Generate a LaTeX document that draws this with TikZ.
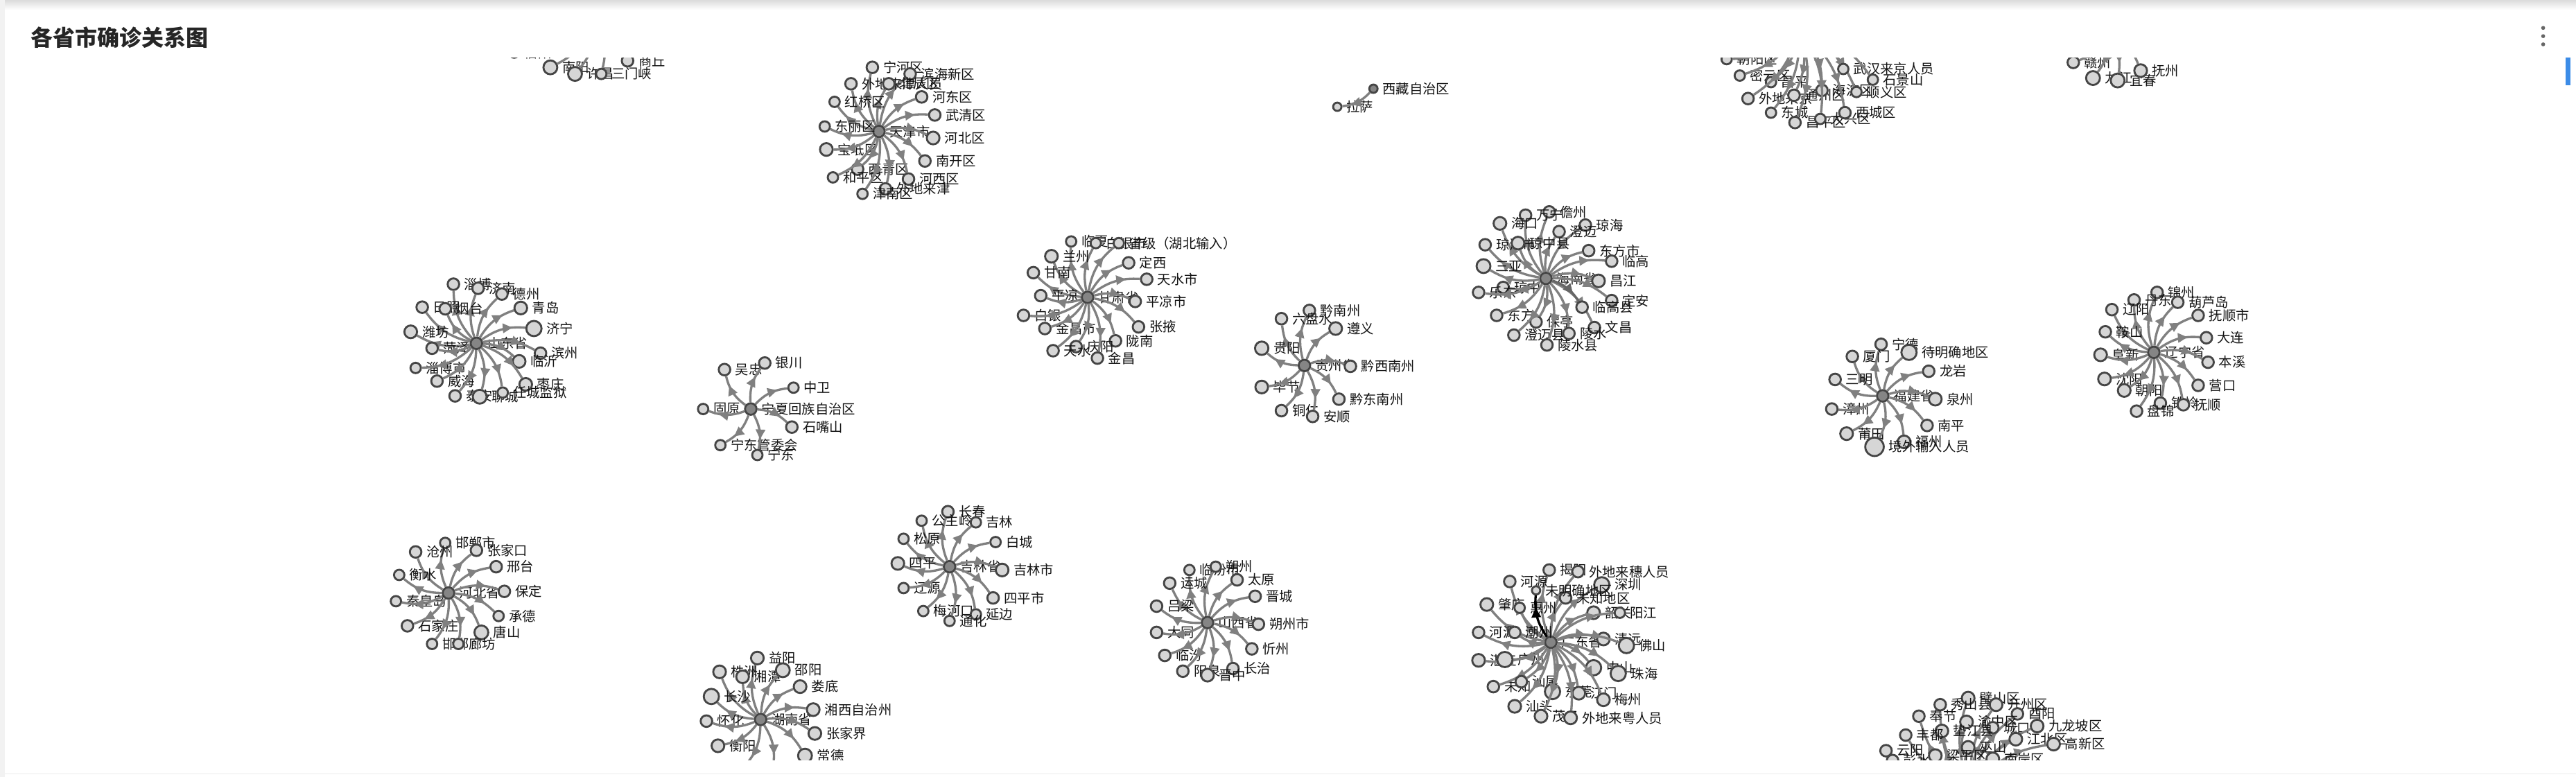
\documentclass[tikz,border=0pt]{standalone}
\usepackage{fontspec}
\setmainfont{Noto Sans CJK SC}
\usetikzlibrary{arrows.meta,decorations.markings}
\definecolor{edgegray}{HTML}{808080}
\definecolor{rimgray}{HTML}{454545}
\definecolor{leafgray}{HTML}{D6D6D6}
\definecolor{hubgray}{HTML}{858585}
\definecolor{barblue}{HTML}{3C8CE7}
\tikzstyle{vertex}=[circle,draw=rimgray,line width=0.85pt,fill=leafgray,minimum size=4.5pt,inner sep=0pt]
\tikzstyle{Cvertex}=[vertex,fill=hubgray,minimum size=5pt]
\tikzstyle{every label}=[font=\fontsize{5.8}{6}\selectfont,inner sep=0pt,text=black!92]
\tikzstyle{EdgeStyle}=[color=edgegray,line width=1pt,bend left=20,postaction={decorate},
  decoration={markings,mark=at position 0.72 with {\arrow{Triangle[length=4.2pt,width=4pt]}}}]
\newcommand{\picunit}{0.025cm}

\begin{document}
\begin{tikzpicture}[x=\picunit,y=-\picunit,label distance=1.6pt]
\useasboundingbox (0,0) rectangle (1568,473);
\fill[white] (0,0) rectangle (1568,473);
\shade[top color=black!14,bottom color=white] (0,0) rectangle (1568,6);
\fill[black!5] (0,0) rectangle (3,473);
\draw[black!8] (3,471) -- (1568,471);
\node[anchor=west,font=\fontsize{9.6}{11}\selectfont\bfseries,text=black!85] (title) at (14,23) {各省市确诊关系图};
% menu and scroll bar
\foreach \d in {17,22,27} \fill[black!60] (1548,\d) circle (1.2);
\fill[barblue] (1561.5,35) rectangle (1564.5,52);

\begin{scope}
\clip (0,35.3) rectangle (1558,462.5);

% Henan (hub above the view)
\node[Cvertex] (HA) at (362,12) {};
\foreach \i/\x/\y/\lab/\sz in {1/313/32/信阳/4.5,2/335/41/南阳/6,3/350/45/许昌/6,4/366/45/三门峡/4.5,5/382/37/商丘/5}{
  \node[vertex,minimum size=\sz pt,label=right:\lab] (HA\i) at (\x,\y) {};
  \draw[EdgeStyle] (HA) to (HA\i);
}

% Tianjin
\node[Cvertex,label=right:天津市] (TJ) at (535,80) {};
\foreach \i/\x/\y/\lab/\sz in {1/531/41/宁河区/5,2/554/45/滨海新区/5,3/518/51/外地来津人员/5,4/541/51/北辰区/5,
  5/561/59/河东区/5,6/508/62/红桥区/4.5,7/569/70/武清区/5,8/502/77/东丽区/4.5,9/568/84/河北区/5.5,
  10/503/91/宝坻区/5.5,11/563/98/南开区/5,12/522/103/西青区/5,13/507/108/和平区/4.5,14/553/109/河西区/5,
  15/539/115/外地来津/5,16/525/118/津南区/4.5}{
  \node[vertex,minimum size=\sz pt,label=right:\lab] (TJ\i) at (\x,\y) {};
  \draw[EdgeStyle] (TJ) to (TJ\i);
}

% Xizang
\node[Cvertex,minimum size=3.6pt,label=right:西藏自治区] (XZ) at (836,54) {};
\node[vertex,minimum size=3.6pt,label=right:拉萨] (XZ1) at (814,65) {};
\draw[EdgeStyle] (XZ) to (XZ1);

% Beijing (hub above the view)
\node[Cvertex] (BJ) at (1095,18) {};
\foreach \i/\x/\y/\lab/\sz in {1/1051/36/朝阳区/4.5,2/1059/46/密云区/4.5,3/1078/50/昌平/4.5,4/1064/60/外地来京/5,
  5/1092/58/通州区/5,6/1109/55/海淀区/5,7/1130/56/顺义区/4.5,8/1122/42/武汉来京人员/4.5,9/1140/48.5/石景山/4.5,
  10/1078/68.6/东城/4.5,11/1092.6/74.6/昌平区/5,12/1108/72.4/大兴区/4.5,13/1123/68.6/西城区/5}{
  \node[vertex,minimum size=\sz pt,label=right:\lab] (BJ\i) at (\x,\y) {};
  \draw[EdgeStyle] (BJ) to (BJ\i);
}

% Jiangxi (hub above the view)
\node[Cvertex] (JX) at (1283,20) {};
\foreach \i/\x/\y/\lab/\sz in {1/1262/38/赣州/5,2/1274/47.5/九江/6,3/1289/49/宜春/6,4/1303/43/抚州/5.5}{
  \node[vertex,minimum size=\sz pt,label=right:\lab] (JX\i) at (\x,\y) {};
  \draw[EdgeStyle] (JX) to (JX\i);
}

% Shandong
\node[Cvertex,label=right:山东省] (SD) at (290,209) {};
\foreach \i/\x/\y/\lab/\sz in {1/276/173/淄博/5,2/291/175.5/济南/5,3/305.5/179/德州/5,4/257/187/日照/5,
  5/271/188/烟台/5,6/317/187.5/青岛/5.5,7/325/200/济宁/6.6,8/250/202/潍坊/5.5,9/263/212/菏泽/5,
  10/329/215/滨州/5,11/316/220/临沂/5.5,12/253/224/淄博市/4.5,13/266/232/威海/5,14/320/234/枣庄/5.5,
  15/277/241/泰安/5,16/292/241.5/聊城/6,17/306/239/任城监狱/4.5}{
  \node[vertex,minimum size=\sz pt,label=right:\lab] (SD\i) at (\x,\y) {};
  \draw[EdgeStyle] (SD) to (SD\i);
}

% Ningxia
\node[Cvertex,label=right:宁夏回族自治区] (NX) at (457,249) {};
\foreach \i/\x/\y/\lab/\sz in {1/441/225/吴忠/5,2/465.5/221/银川/5,3/483/236/中卫/4.5,4/428/249/固原/4.5,
  5/482/260/石嘴山/5,6/438.5/271/宁东管委会/4.5,7/461/277/宁东/4.5}{
  \node[vertex,minimum size=\sz pt,label=right:\lab] (NX\i) at (\x,\y) {};
  \draw[EdgeStyle] (NX) to (NX\i);
}

% Gansu
\node[Cvertex,label=right:甘肃省] (GS) at (662,181) {};
\foreach \i/\x/\y/\lab/\sz in {1/652/147/临夏/4.5,2/667/148/白银市/4.5,3/681/148/省级（湖北输入）/4.5,4/640/156/兰州/5.5,
  5/687/160/定西/5,6/629/166/甘南/5,7/698/170/天水市/5,8/633.5/180/平凉/5,9/691/183.5/平凉市/5,
  10/623/192/白银/5,11/636/200/金昌市/5,12/693/199/张掖/5,13/679/207.5/陇南/5,14/655/211/庆阳/5,
  15/641/213.5/天水/5,16/668/218/金昌/5}{
  \node[vertex,minimum size=\sz pt,label=right:\lab] (GS\i) at (\x,\y) {};
  \draw[EdgeStyle] (GS) to (GS\i);
}

% Guizhou
\node[Cvertex,label=right:贵州省] (GZ) at (794,222.5) {};
\foreach \i/\x/\y/\lab/\sz in {1/797/189/黔南州/5,2/780/194/六盘水/5,3/813/200/遵义/5.5,4/768/212/贵阳/5.8,
  5/822/223/黔西南州/5,6/768/235.6/毕节/5.5,7/815/243/黔东南州/5,8/780/250/铜仁/5,9/799/253.5/安顺/5}{
  \node[vertex,minimum size=\sz pt,label=right:\lab] (GZ\i) at (\x,\y) {};
  \draw[EdgeStyle] (GZ) to (GZ\i);
}

% Hainan
\node[Cvertex,label=right:海南省] (HI) at (941,169.5) {};
\foreach \i/\x/\y/\lab/\sz in {1/943/129/儋州/5,2/928.6/131/万宁/5,3/913/136/海口/5.5,4/965/137/琼海/5,
  5/949/141/澄迈/5,6/904/149/琼海市/5,7/924/148/琼中县/5.5,8/967/152.6/东方市/5,9/981/159/临高/5,
  10/903/162/三亚/6,11/973/171/昌江/5.5,12/915/175/琼中/5,13/900/178/乐东/5,14/981/183/定安/5,
  15/911/192/东方/5,16/935/196/保亭/5,17/970.5/199.4/文昌/5,18/921.5/204/澄迈县/5,19/955/203/陵水/5,
  20/941.6/210/陵水县/5}{
  \node[vertex,minimum size=\sz pt,label=right:\lab] (HI\i) at (\x,\y) {};
  \draw[EdgeStyle] (HI) to (HI\i);
}
\node[vertex,minimum size=5pt,label=right:临高县] (HI21) at (963,187) {};
\draw[EdgeStyle,color=black!60] (HI) to (HI21);

% Fujian
\node[Cvertex,label=right:福建省] (FJ) at (1146,241) {};
\foreach \i/\x/\y/\lab/\sz in {1/1145/209.6/宁德/5,2/1162/214.5/待明确地区/6.6,3/1127.5/217/厦门/5,4/1174/226/龙岩/5,
  5/1117/231/三明/5,6/1178/243/泉州/5.5,7/1115/249/漳州/5,8/1173/259/南平/5,9/1124/264/莆田/5.5,
  10/1159/269/福州/5.5,11/1141/272/境外输入人员/8}{
  \node[vertex,minimum size=\sz pt,label=right:\lab] (FJ\i) at (\x,\y) {};
  \draw[EdgeStyle] (FJ) to (FJ\i);
}

% Liaoning
\node[Cvertex,label=right:辽宁省] (LN) at (1311,214.5) {};
\foreach \i/\x/\y/\lab/\sz in {1/1313/178/锦州/5,2/1299/182.6/丹东/5,3/1325.6/184/葫芦岛/5,4/1285.5/188.5/辽阳/5,
  5/1338/192/抚顺市/5,6/1281.5/202/鞍山/5,7/1343/205.6/大连/5,8/1278.6/216/阜新/5.5,9/1344/220.5/本溪/5,
  10/1281/230.7/沈阳/5.5,11/1338/234.6/营口/5,12/1293/237.7/朝阳/5.5,13/1315/245.4/铁岭/5,14/1329/246.4/抚顺/5,
  15/1300.5/250.3/盘锦/5}{
  \node[vertex,minimum size=\sz pt,label=right:\lab] (LN\i) at (\x,\y) {};
  \draw[EdgeStyle] (LN) to (LN\i);
}

% Hebei
\node[Cvertex,label=right:河北省] (HE) at (273,361) {};
\foreach \i/\x/\y/\lab/\sz in {1/271/330.5/邯郸市/4.5,2/253/336/沧州/5,3/290/335/张家口/5,4/302/345/邢台/5,
  5/243/350/衡水/4.5,6/307/360/保定/5,7/241/366/秦皇岛/4.5,8/303.5/375/承德/4.5,9/248/381/石家庄/5,
  10/293/385/唐山/6,11/263/392/邯郸/4.5,12/279/392/廊坊/4.5}{
  \node[vertex,minimum size=\sz pt,label=right:\lab] (HE\i) at (\x,\y) {};
  \draw[EdgeStyle] (HE) to (HE\i);
}

% Jilin
\node[Cvertex,label=right:吉林省] (JL) at (578,345) {};
\foreach \i/\x/\y/\lab/\sz in {1/577/311.5/长春/5,2/561/317/公主岭/4.5,3/594/318/吉林/4.5,4/550/328/松原/4.5,
  5/606/330/白城/4.5,6/546.5/343/四平/5.5,7/610/347/吉林市/5.5,8/550/358/辽源/4.5,9/604.5/364/四平市/5,
  10/562/372/梅河口/4.5,11/594/374/延边/4.5,12/578/378/通化/4.5}{
  \node[vertex,minimum size=\sz pt,label=right:\lab] (JL\i) at (\x,\y) {};
  \draw[EdgeStyle] (JL) to (JL\i);
}

% Shanxi
\node[Cvertex,label=right:山西省] (SX) at (735,379) {};
\foreach \i/\x/\y/\lab/\sz in {1/724/347/临汾市/4.5,2/740/345/朔州/4.5,3/753/353/太原/5,4/712/355/运城/5,
  5/764/363/晋城/5,6/704/369/吕梁/5,7/766/380/朔州市/5,8/704/385/大同/5,9/762/395/忻州/5,
  10/709/399/临汾/5,11/720/408.6/阳泉/5,12/750.5/407/长治/5,13/735/411/晋中/5.5}{
  \node[vertex,minimum size=\sz pt,label=right:\lab] (SX\i) at (\x,\y) {};
  \draw[EdgeStyle] (SX) to (SX\i);
}

% Guangdong
\node[Cvertex,label=right:广东省] (GD) at (944,391) {};
\foreach \i/\x/\y/\lab/\sz in {1/943/347/揭阳/5,2/960.5/348/外地来穗人员/5,3/919/354/河源/5,5/975/356/深圳/6.6,
  6/953/364/未知地区/5,7/905/368/肇庆/5.5,8/925/370/惠州/4.5,9/970/373/韶关/5.5,10/986/373/阳江/4.5,
  11/900/385/河源/5,12/922/385/潮州/5,13/976/389/清远/5.5,14/990/393/佛山/6.6,15/900/402/湛江/5.5,
  16/916/401.5/广州/6.6,17/970/406.5/中山/6.6,18/985/410/珠海/6.6,19/909/418/未知/5,20/926/415/汕尾/5,
  21/945/421/东莞/6.6,22/961/422/江门/5.5,23/976/426/梅州/5.5,24/922/430/汕头/5.5,25/938/436/茂名/5.5,
  26/956/437/外地来粤人员/5.5}{
  \node[vertex,minimum size=\sz pt,label=right:\lab] (GD\i) at (\x,\y) {};
  \draw[EdgeStyle] (GD) to (GD\i);
}
\node[vertex,minimum size=3.6pt,label=right:未明确地区] (GD4) at (935,359.4) {};
\draw[EdgeStyle,color=black] (GD) to (GD4);

% Hunan
\node[Cvertex,label=right:湖南省] (HUN) at (463,438) {};
\foreach \i/\x/\y/\lab/\sz in {1/461/400.6/益阳/5.5,2/438/409/株洲/5.5,3/452/412/湘潭/5.5,4/476.5/408/邵阳/6,
  5/487/418/娄底/5.5,6/433/424/长沙/6.6,7/495/432/湘西自治州/5.5,8/430/439/怀化/5,9/496/446.5/张家界/5.5,
  10/437/454/衡阳/5.5,11/490/460/常德/6,12/450/470/岳阳/5.5,13/470/471/郴州/5.5}{
  \node[vertex,minimum size=\sz pt,label=right:\lab] (HUN\i) at (\x,\y) {};
  \draw[EdgeStyle] (HUN) to (HUN\i);
}

% Chongqing (hub below the view)
\node[Cvertex] (CQ) at (1200,480) {};
\foreach \i/\x/\y/\lab/\sz in {1/1198/425/璧山区/5.5,2/1181/429/秀山县/5,3/1215/429/开州区/5.5,4/1168/436/奉节/5,
  5/1228/434.6/酉阳/5,6/1197/439.5/渝中区/5.5,7/1213/443/城口/5,8/1240/442/九龙坡区/5.5,9/1182/445/垫江县/5.5,
  10/1160/447.5/丰都/5,11/1227/450/江北区/5.5,12/1250/453/高新区/5.5,13/1198/455/巫山/5.5,14/1148/457/云阳/5,
  15/1178/460/梁平区/5.5,16/1152/463/彭水/5,17/1213/462/南岸区/5.5}{
  \node[vertex,minimum size=\sz pt,label=right:\lab] (CQ\i) at (\x,\y) {};
  \draw[EdgeStyle] (CQ) to (CQ\i);
}
\end{scope}
\end{tikzpicture}
\end{document}
